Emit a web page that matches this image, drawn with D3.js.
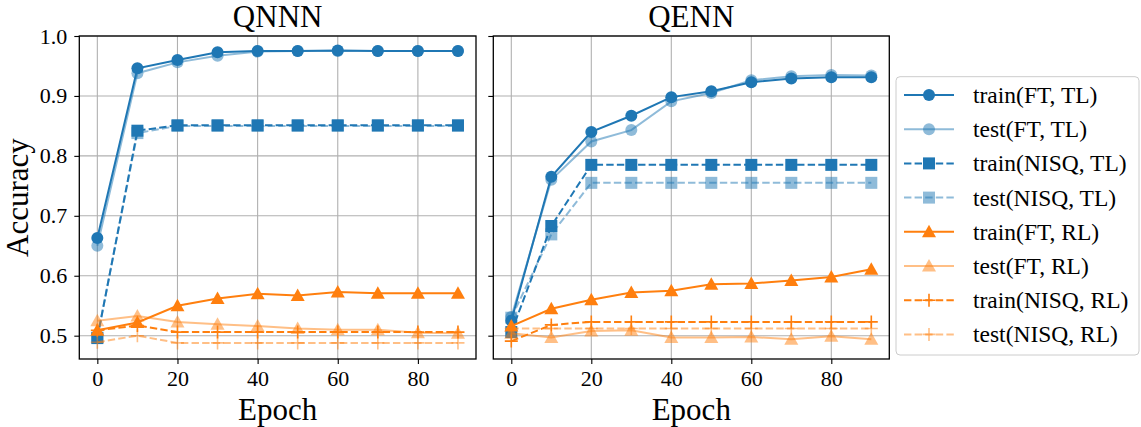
<!DOCTYPE html>
<html>
<head>
<meta charset="utf-8">
<script src="https://cdn.jsdelivr.net/npm/d3@7"></script>
<style>
  body { margin: 0; background: #fff; }
  svg text { font-family: "Times New Roman", "Liberation Serif", serif; fill: #000; }
</style>
</head>
<body>
<div id="chart"></div>
<script>
const epochs = [0, 10, 20, 30, 40, 50, 60, 70, 80, 90];
const xTicks = [0, 20, 40, 60, 80];
const yTicks = [0.5, 0.6, 0.7, 0.8, 0.9, 1.0];
const panelTitles = ["QNNN", "QENN"];

const seriesNames = ["train(FT, TL)", "test(FT, TL)", "train(NISQ, TL)", "test(NISQ, TL)",
  "train(FT, RL)", "test(FT, RL)", "train(NISQ, RL)", "test(NISQ, RL)"];

// QNNN
const qnnnTrainFtTl   = [0.663, 0.946, 0.960, 0.973, 0.975, 0.975, 0.976, 0.975, 0.975, 0.975];
const qnnnTestFtTl    = [0.650, 0.938, 0.956, 0.967, 0.974, 0.975, 0.975, 0.975, 0.975, 0.975];
const qnnnTrainNisqTl = [0.496, 0.842, 0.851, 0.851, 0.851, 0.851, 0.851, 0.851, 0.851, 0.851];
const qnnnTestNisqTl  = [0.497, 0.838, 0.850, 0.850, 0.850, 0.850, 0.850, 0.850, 0.850, 0.850];
const qnnnTrainFtRl   = [0.509, 0.522, 0.550, 0.562, 0.570, 0.567, 0.573, 0.571, 0.571, 0.571];
const qnnnTestFtRl    = [0.525, 0.533, 0.523, 0.519, 0.516, 0.512, 0.510, 0.510, 0.505, 0.504];
const qnnnTrainNisqRl = [0.509, 0.517, 0.506, 0.506, 0.506, 0.506, 0.506, 0.506, 0.506, 0.506];
const qnnnTestNisqRl  = [0.489, 0.500, 0.488, 0.488, 0.488, 0.488, 0.488, 0.488, 0.488, 0.488];

// QENN
const qennTrainFtTl   = [0.525, 0.765, 0.840, 0.867, 0.898, 0.908, 0.923, 0.929, 0.931, 0.931];
const qennTestFtTl    = [0.531, 0.760, 0.824, 0.843, 0.891, 0.905, 0.926, 0.933, 0.935, 0.934];
const qennTrainNisqTl = [0.506, 0.683, 0.785, 0.785, 0.785, 0.785, 0.785, 0.785, 0.785, 0.785];
const qennTestNisqTl  = [0.530, 0.669, 0.755, 0.755, 0.755, 0.755, 0.755, 0.755, 0.755, 0.755];
const qennTrainFtRl   = [0.516, 0.545, 0.560, 0.572, 0.575, 0.586, 0.587, 0.592, 0.598, 0.611];
const qennTestFtRl    = [0.504, 0.497, 0.508, 0.509, 0.497, 0.497, 0.498, 0.494, 0.499, 0.494];
const qennTrainNisqRl = [0.491, 0.518, 0.523, 0.523, 0.523, 0.523, 0.523, 0.523, 0.523, 0.523];
const qennTestNisqRl  = [0.512, 0.512, 0.512, 0.512, 0.512, 0.512, 0.512, 0.512, 0.512, 0.512];

const panelData = [
  [qnnnTrainFtTl, qnnnTestFtTl, qnnnTrainNisqTl, qnnnTestNisqTl, qnnnTrainFtRl, qnnnTestFtRl, qnnnTrainNisqRl, qnnnTestNisqRl],
  [qennTrainFtTl, qennTestFtTl, qennTrainNisqTl, qennTestNisqTl, qennTrainFtRl, qennTestFtRl, qennTrainNisqRl, qennTestNisqRl]
];

// style of each series (same order as seriesNames)
const blue = "#1f77b4", orange = "#ff7f0e";
const styles = [
  {color: blue, alpha: 1, dash: null, marker: "circle"},
  {color: blue, alpha: 0.5, dash: null, marker: "circle"},
  {color: blue, alpha: 1, dash: "7.4,3.2", marker: "square"},
  {color: blue, alpha: 0.5, dash: "7.4,3.2", marker: "square"},
  {color: orange, alpha: 1, dash: null, marker: "triangle"},
  {color: orange, alpha: 0.5, dash: null, marker: "triangle"},
  {color: orange, alpha: 1, dash: "7.4,3.2", marker: "plus"},
  {color: orange, alpha: 0.5, dash: "7.4,3.2", marker: "plus"}
];

const W = 1141, H = 427;
const plotTop = 36, plotBottom = 359;
const panelX = [[79.3, 476], [493.3, 889.3]];

const svg = d3.select("#chart").append("svg")
  .attr("width", W).attr("height", H).style("display", "block");

const y = d3.scaleLinear().domain([0.4611, 1.0]).range([plotBottom, plotTop]);

function drawMarker(g, type, cx, cy, st) {
  if (type === "circle") {
    g.append("circle").attr("cx", cx).attr("cy", cy).attr("r", 6)
      .attr("fill", st.color).attr("fill-opacity", st.alpha);
  } else if (type === "square") {
    g.append("rect").attr("x", cx - 6).attr("y", cy - 6).attr("width", 12).attr("height", 12)
      .attr("fill", st.color).attr("fill-opacity", st.alpha);
  } else if (type === "triangle") {
    g.append("path").attr("d", `M${cx},${cy - 7}L${cx + 7},${cy + 5.5}L${cx - 7},${cy + 5.5}Z`)
      .attr("fill", st.color).attr("fill-opacity", st.alpha);
  } else {
    g.append("path").attr("d", `M${cx - 6.5},${cy}H${cx + 6.5}M${cx},${cy - 6.5}V${cy + 6.5}`)
      .attr("stroke", st.color).attr("stroke-opacity", st.alpha).attr("stroke-width", 1.6);
  }
}

panelData.forEach((series, p) => {
  const [x0, x1] = panelX[p];
  const x = d3.scaleLinear().domain([-4.5, 94.5]).range([x0, x1]);
  const g = svg.append("g");

  // grid
  g.selectAll(".gx").data(xTicks).enter().append("line")
    .attr("x1", d => x(d)).attr("x2", d => x(d)).attr("y1", plotTop).attr("y2", plotBottom)
    .attr("stroke", "#b0b0b0").attr("stroke-width", 1.1);
  g.selectAll(".gy").data(yTicks).enter().append("line")
    .attr("x1", x0).attr("x2", x1).attr("y1", d => y(d)).attr("y2", d => y(d))
    .attr("stroke", "#b0b0b0").attr("stroke-width", 1.1);

  // series
  const line = d3.line().x((d, i) => x(epochs[i])).y(d => y(d));
  series.forEach((vals, s) => {
    const st = styles[s];
    const sg = g.append("g");
    sg.append("path").datum(vals).attr("d", line)
      .attr("fill", "none").attr("stroke", st.color).attr("stroke-opacity", st.alpha)
      .attr("stroke-width", 2).attr("stroke-dasharray", st.dash);
    vals.forEach((v, i) => drawMarker(sg, st.marker, x(epochs[i]), y(v), st));
  });

  // frame
  g.append("rect").attr("x", x0).attr("y", plotTop).attr("width", x1 - x0).attr("height", plotBottom - plotTop)
    .attr("fill", "none").attr("stroke", "#000").attr("stroke-width", 1.3);

  // axes
  const xa = g.append("g").attr("transform", `translate(0,${plotBottom})`)
    .call(d3.axisBottom(x).tickValues(xTicks).tickSize(5).tickPadding(6).tickFormat(d3.format("d")));
  xa.select(".domain").remove();
  xa.attr("font-family", null);
  xa.selectAll("line").attr("stroke-width", 1.1);
  xa.selectAll("text").style("font-size", "22px");

  const ya = g.append("g").attr("transform", `translate(${x0},0)`)
    .call(d3.axisLeft(y).tickValues(yTicks).tickSize(5).tickPadding(7)
      .tickFormat(p === 0 ? d3.format(".1f") : () => ""));
  ya.select(".domain").remove();
  ya.attr("font-family", null);
  ya.selectAll("line").attr("stroke-width", 1.1);
  ya.selectAll("text").style("font-size", "22px");

  // title and x label
  const cx = (x0 + x1) / 2;
  svg.append("text").attr("x", cx).attr("y", 27).attr("text-anchor", "middle")
    .style("font-size", "31px").text(panelTitles[p]);
  svg.append("text").attr("x", cx).attr("y", 420).attr("text-anchor", "middle")
    .style("font-size", "31px").text("Epoch");
});

svg.append("text").attr("transform", `translate(28,${(plotTop + plotBottom) / 2}) rotate(-90)`)
  .attr("text-anchor", "middle").style("font-size", "31px").text("Accuracy");

// legend
const lg = svg.append("g");
lg.append("rect").attr("x", 896).attr("y", 76.7).attr("width", 243).attr("height", 278.3)
  .attr("rx", 4).attr("fill", "#fff").attr("fill-opacity", 0.8)
  .attr("stroke", "#cccccc").attr("stroke-width", 1);
seriesNames.forEach((name, s) => {
  const st = styles[s];
  const cy = 95 + s * 34.2;
  lg.append("line").attr("x1", 904).attr("x2", 954).attr("y1", cy).attr("y2", cy)
    .attr("stroke", st.color).attr("stroke-opacity", st.alpha).attr("stroke-width", 2)
    .attr("stroke-dasharray", st.dash);
  drawMarker(lg, st.marker, 929, cy, st);
  lg.append("text").attr("x", 973).attr("y", cy + 8).style("font-size", "23.5px").text(name);
});
</script>
</body>
</html>
